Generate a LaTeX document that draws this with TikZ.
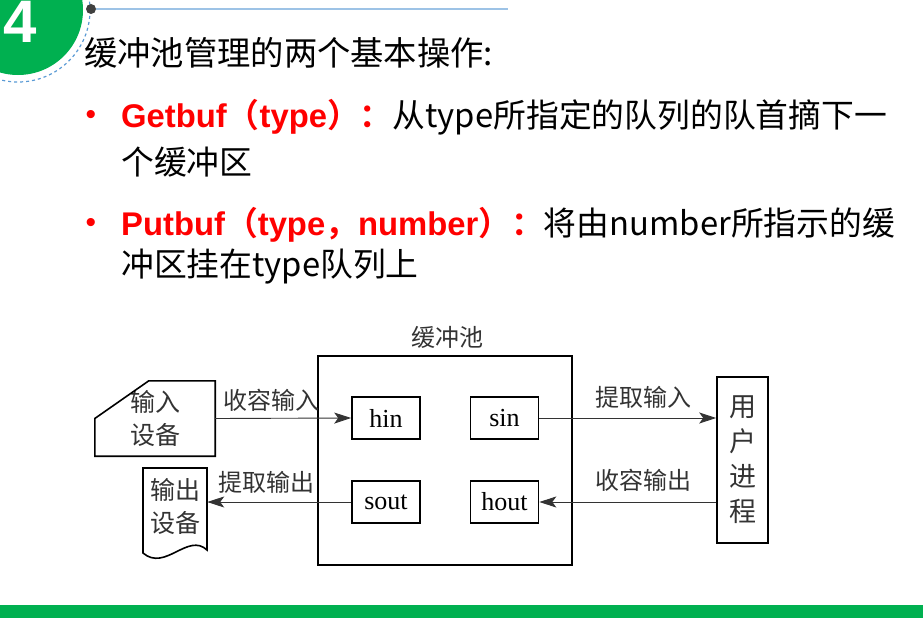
\documentclass[tikz,border=0pt]{standalone}
\usepackage{fontspec}
\setmainfont{Liberation Sans}
\newfontfamily\cjk{Noto Sans CJK SC}[BoldFont={Noto Sans CJK SC Bold}]
\newfontfamily\tms{Liberation Serif}
\usetikzlibrary{arrows.meta}
\definecolor{pptgreen}{HTML}{00B050}
\definecolor{lineblue}{HTML}{9DC3E6}
\definecolor{dashblue}{HTML}{5B9BD5}
\definecolor{pptred}{HTML}{FF0000}
\newcommand\fw[1]{{\cjk #1}}
\tikzset{%
  bodytext/.style={anchor=west, inner sep=0pt, font=\fontsize{32.8}{38}\selectfont\cjk},%
  bullet/.style={inner sep=0pt, text=pptred, font=\fontsize{30}{30}\selectfont},%
  bufbox/.style={draw, line width=1.6pt, minimum width=68pt, minimum height=42pt, inner sep=0pt, font=\fontsize{26}{28}\selectfont\tms},%
  lbl/.style={inner sep=0pt, text=black!80, font=\fontsize{24}{26}\selectfont\cjk},%
  devtext/.style={inner sep=0pt, align=center, text=black!80, font=\fontsize{25}{33}\selectfont\cjk},%
  flow/.style={draw=black!80, line width=0.9pt, -{Stealth[length=17pt,width=11pt,inset=4pt]}},%
}
\begin{document}
\begin{tikzpicture}[x=1pt, y=-1pt]%
\useasboundingbox (0,0) rectangle (923,618);%
\clip (0,0) rectangle (923,618);%
\fill[pptgreen] (18,10) circle (65);%
\draw[dashblue, line width=1.2pt, dashed] (18,10) circle (72);%
\node[inner sep=0pt, text=white, font=\fontsize{60}{60}\selectfont\bfseries] (num) at (20,22) {4};%
\node[circle, fill=black!75, inner sep=0pt, minimum size=10pt] (dot) at (91,9) {};%
\coordinate (lineend) at (508,9);%
\draw[lineblue, line width=1.5pt] (dot) -- (lineend);%
\fill[pptgreen] (0,605) rectangle (923,618);%
\node[anchor=west, inner sep=0pt, font=\fontsize{33.3}{38}\selectfont\cjk] (title) at (84,53) {缓冲池管理的两个基本操作:};%
\node[bullet] (dot1) at (91,117) {•};%
\node[bodytext] (get1) at (121,117) {{\color{pptred}\bfseries\fontspec{Liberation Sans} Getbuf\fw{（}type\fw{）：}}从type所指定的队列的队首摘下一};%
\node[bodytext] (get2) at (121,162) {个缓冲区};%
\node[bullet] (dot2) at (91,225) {•};%
\node[bodytext] (put1) at (121,225) {{\color{pptred}\bfseries\fontspec{Liberation Sans} Putbuf\fw{（}type\fw{，}number\fw{）：}}将由number所指示的缓};%
\node[bodytext] (put2) at (121,267) {冲区挂在type队列上};%
\node[lbl] (pooltitle) at (447,337) {缓冲池};%
\node[draw, line width=1.8pt, minimum width=254pt, minimum height=209pt] (pool) at (445,460.5) {};%
\node[bufbox] (hin) at (386,418) {hin};%
\node[bufbox] (sin) at (504.5,418) {sin};%
\node[bufbox] (sout) at (386,502) {sout};%
\node[bufbox] (hout) at (504.5,502) {hout};%
\node[devtext, minimum width=120pt, minimum height=75pt] (indev) at (155,418.5) {输入\\设备};%
\draw[line width=1.6pt] (indev.west) -- ([xshift=54pt]indev.north west) -- (indev.north east) -- (indev.south east) -- (indev.south west) -- cycle;%
\node[devtext, minimum width=64pt] (outdev) at (175,506) {输出\\设备};%
\draw[line width=1.6pt] (143,468) -- (207,468) -- (207,550) .. controls (188,532) and (165,572) .. (143,553) -- cycle;%
\node[draw, line width=1.6pt, minimum width=51pt, minimum height=166pt, inner sep=0pt, align=center, text=black!80, font=\fontsize{27}{35}\selectfont\cjk] (user) at (742.5,460) {用\\户\\进\\程};%
\draw[flow] (indev.east) -- (hin.west);%
\draw[flow] (sout.west) -- (sout.west -| outdev.east);%
\draw[flow] (sin.east) -- (sin.east -| user.west);%
\draw[flow] (hout.east -| user.west) -- (hout.east);%
\node[lbl] (l1) at (271.5,400) {收容输入};%
\node[lbl] (l2) at (266.5,482) {提取输出};%
\node[lbl] (l3) at (643.5,397) {提取输入};%
\node[lbl] (l4) at (643.5,480) {收容输出};%
\end{tikzpicture}
\end{document}
